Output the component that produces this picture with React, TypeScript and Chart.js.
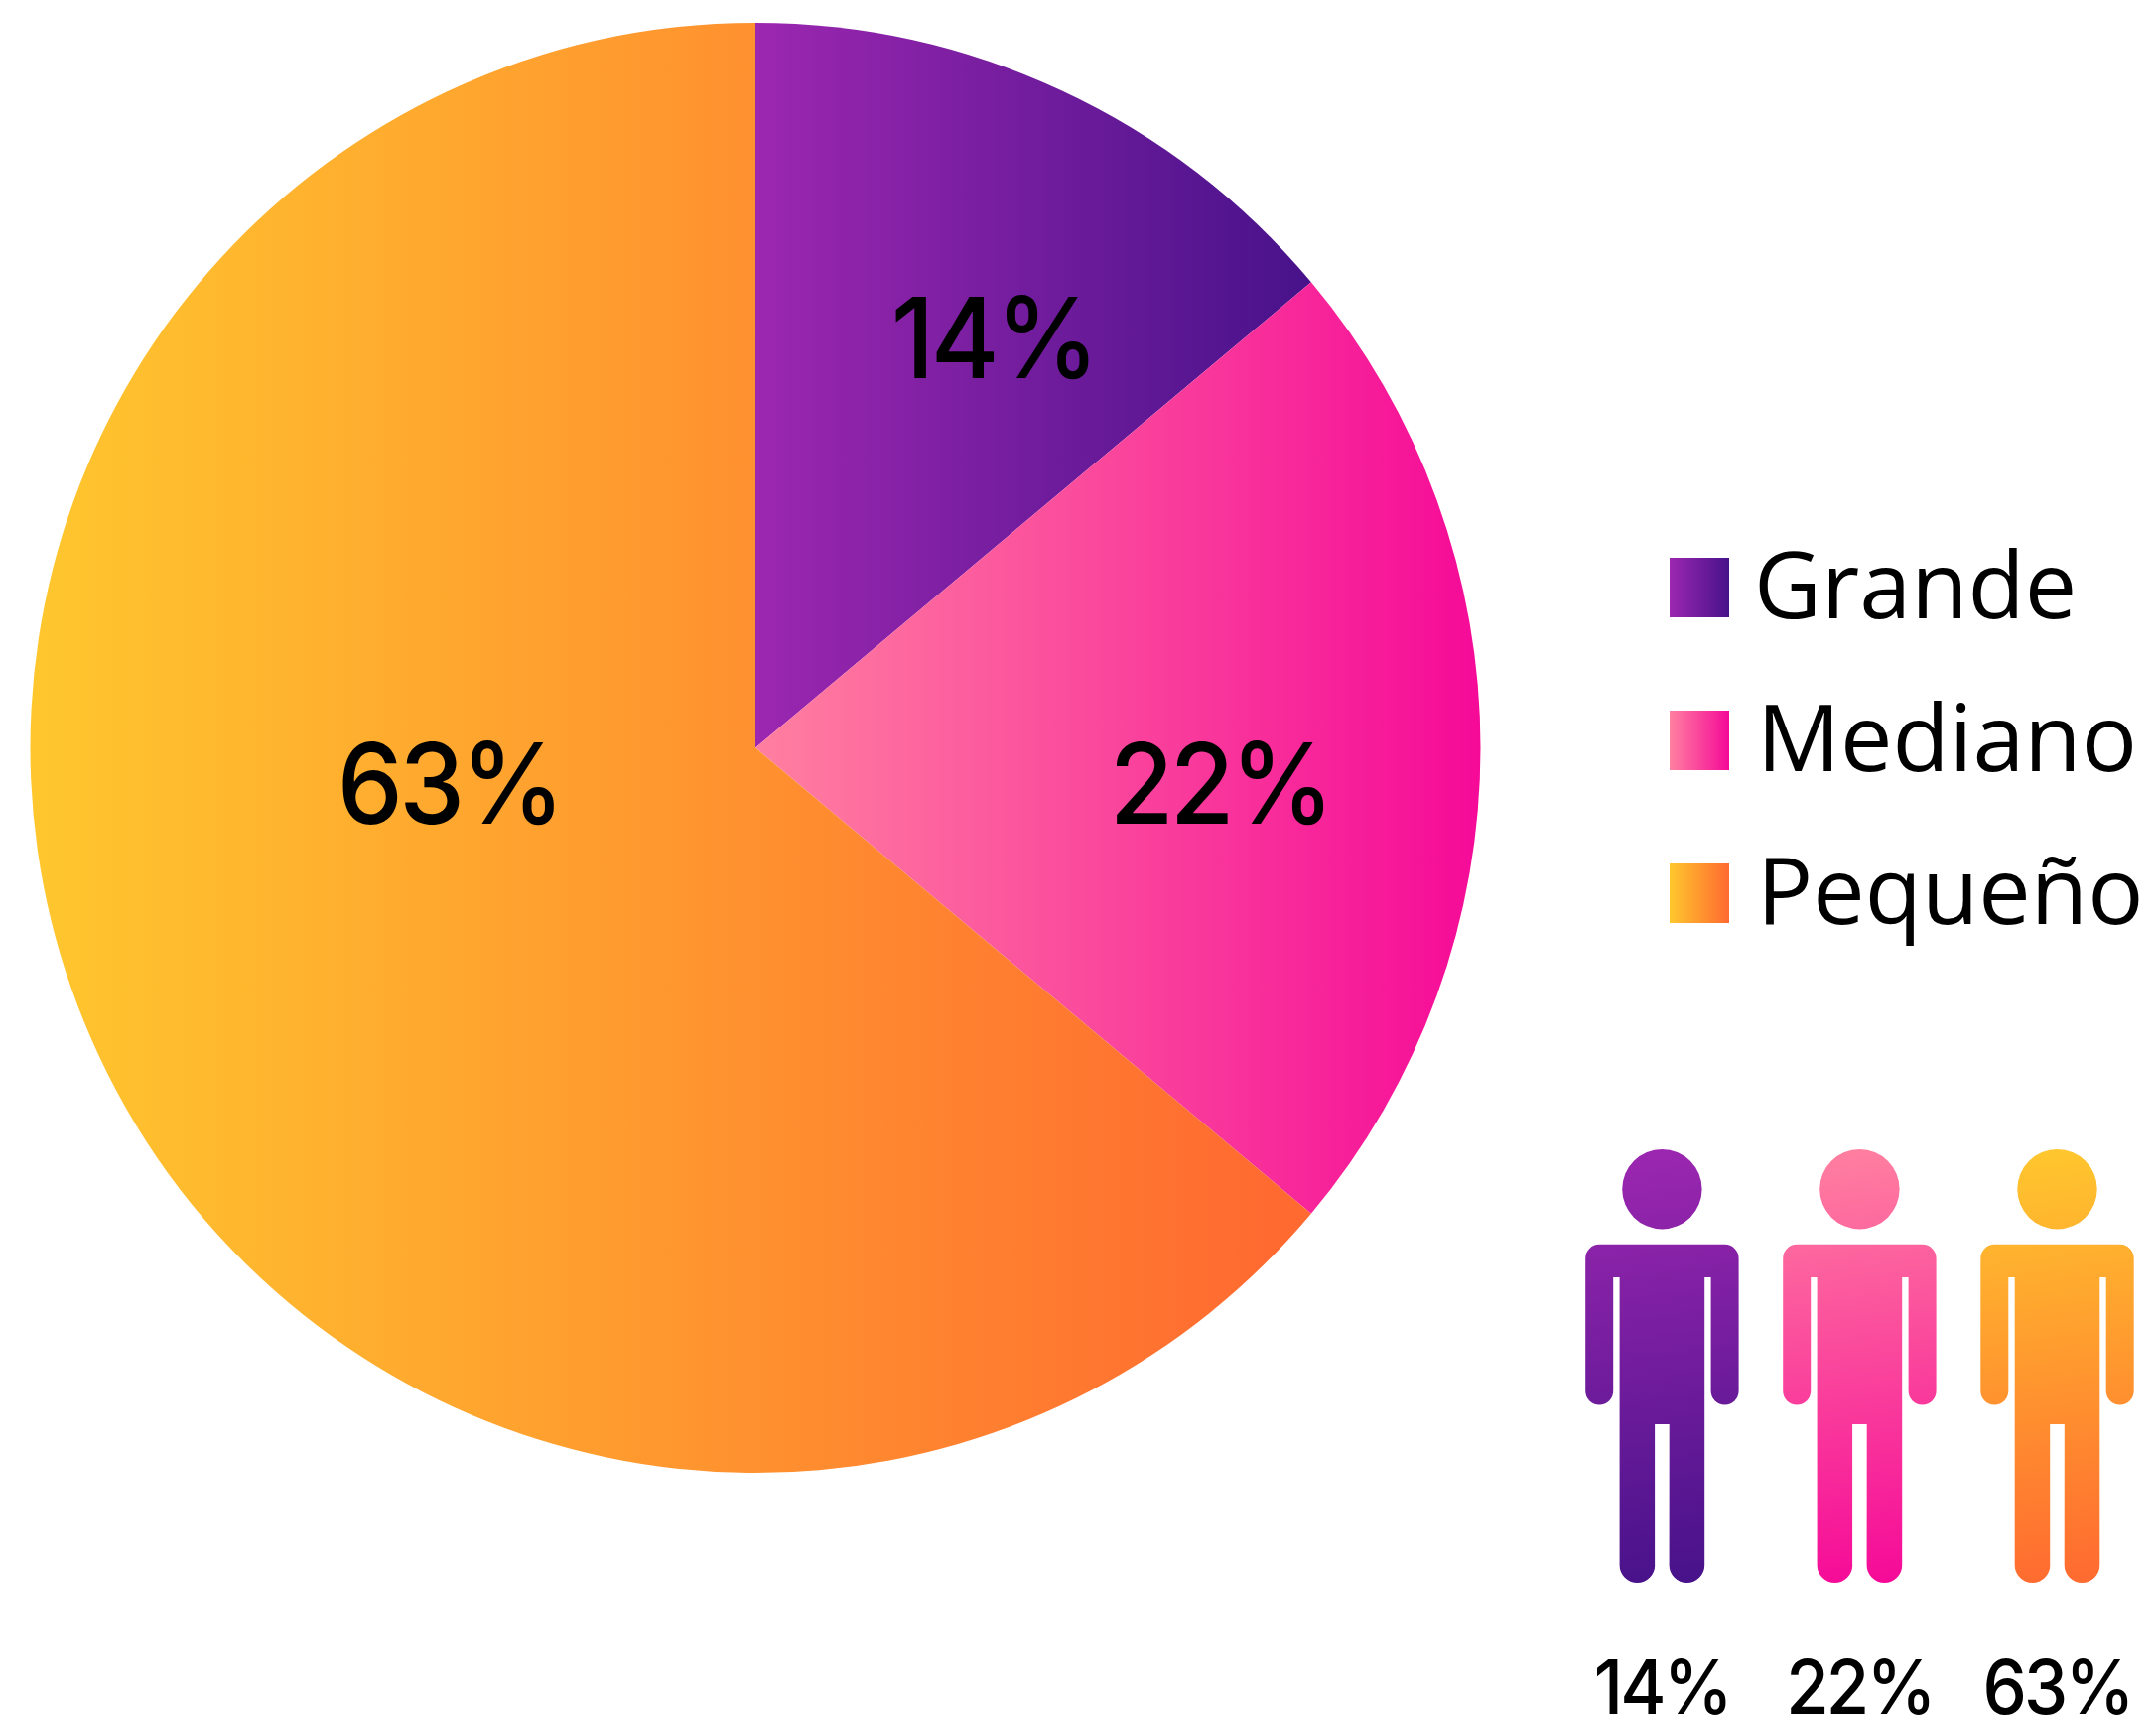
import React, { useEffect, useRef } from "react";
import { Chart, registerables } from "chart.js";

Chart.register(...registerables);

const categories = ["Grande", "Mediano", "Pequeño"];
const sliceValues = [13.9, 22.2, 63.9];
const percentLabels = ["14%", "22%", "63%"];
const startColors = ["#9c27b0", "#ff80a0", "#ffc72e"];
const endColors = ["#47128a", "#f50a98", "#ff6a30"];

const W = 2172;
const H = 1731;
const sliceGradientX: [number, number][] = [[761, 1320], [761, 1492], [30, 1280]];
const pieLabelPos: [number, number][] = [[1000.7, 381], [1229, 830], [452.5, 830]];
const PIE_FONT = "500 113px Inter";
const PIE_SPACING = "-4px";
const PIE_CONDENSE = 0.93;
const LEGEND_FONT = "500 93.5px 'Open Sans'";
const legendBoxX = 1682;
const legendBoxSize = 60;
const legendBoxY = [562, 716, 870];
const legendTextX = [1767, 1770, 1770];
const legendBaseline = [623, 777, 931];
const personX = [1674.4, 1873.4, 2072.5];
const PERSON_FONT = "500 75px Inter";
const PERSON_SPACING = "-3px";
const PERSON_CONDENSE = 0.94;
const PERSON_BASELINE = 1726.5;

function hGrad(ctx: CanvasRenderingContext2D, x0: number, x1: number, a: string, b: string) {
  const g = ctx.createLinearGradient(x0, 0, x1, 0);
  g.addColorStop(0, a);
  g.addColorStop(1, b);
  return g;
}

function condensedText(ctx: any, text: string, x: number, y: number, font: string, spacing: string, sx: number) {
  ctx.save();
  ctx.translate(x, y);
  ctx.scale(sx, 1);
  ctx.fillStyle = "#000";
  ctx.textAlign = "center";
  ctx.textBaseline = "alphabetic";
  ctx.font = font;
  ctx.letterSpacing = spacing;
  ctx.fillText(text, 0, 0);
  ctx.restore();
}

function drawPerson(ctx: CanvasRenderingContext2D, cx: number, a: string, b: string) {
  const g = ctx.createLinearGradient(cx - 30, 1158, cx + 30, 1595);
  g.addColorStop(0, a);
  g.addColorStop(1, b);
  ctx.fillStyle = g;
  ctx.beginPath();
  ctx.arc(cx, 1198.2, 40.2, 0, Math.PI * 2);
  ctx.fill();
  // body: shoulders + arms + torso + legs, all relative to the figure's centre
  const L = cx - 77.2, R = cx + 77.2;
  const top = 1253.8, cr = 14;
  const torso = 42.8, gap = 7.3;
  const armTop = 1287, armBot = 1415.5 - 14;
  const crotch = 1435, legR = 17.8, legBot = 1595 - legR;
  ctx.beginPath();
  ctx.moveTo(L + cr, top);
  ctx.lineTo(R - cr, top);
  ctx.arcTo(R, top, R, top + cr, cr);
  ctx.lineTo(R, armBot);
  ctx.arc(R - 14, armBot, 14, 0, Math.PI);
  ctx.lineTo(cx + 49.2, armTop);
  ctx.lineTo(cx + torso, armTop);
  ctx.lineTo(cx + torso, legBot);
  ctx.arc(cx + torso - legR, legBot, legR, 0, Math.PI);
  ctx.lineTo(cx + gap, crotch);
  ctx.lineTo(cx - gap, crotch);
  ctx.lineTo(cx - gap, legBot);
  ctx.arc(cx - torso + legR, legBot, legR, 0, Math.PI);
  ctx.lineTo(cx - torso, armTop);
  ctx.lineTo(cx - 49.2, armTop);
  ctx.lineTo(cx - 49.2, armBot);
  ctx.arc(L + 14, armBot, 14, 0, Math.PI);
  ctx.lineTo(L, top + cr);
  ctx.arcTo(L, top, L + cr, top, cr);
  ctx.closePath();
  ctx.fill();
}

const decorations = {
  id: "decorations",
  afterDraw(chart: any) {
    const ctx: any = chart.ctx;
    ctx.save();
    percentLabels.forEach((t, i) =>
      condensedText(ctx, t, pieLabelPos[i][0], pieLabelPos[i][1], PIE_FONT, PIE_SPACING, PIE_CONDENSE)
    );

    ctx.textBaseline = "alphabetic";
    categories.forEach((c, i) => {
      ctx.fillStyle = hGrad(ctx, legendBoxX, legendBoxX + legendBoxSize, startColors[i], endColors[i]);
      ctx.fillRect(legendBoxX, legendBoxY[i], legendBoxSize, legendBoxSize);
      ctx.fillStyle = "#000";
      ctx.textAlign = "left";
      ctx.font = LEGEND_FONT;
      ctx.fillText(c, legendTextX[i], legendBaseline[i]);
    });

    personX.forEach((x, i) => {
      drawPerson(ctx, x, startColors[i], endColors[i]);
      condensedText(ctx, percentLabels[i], x, PERSON_BASELINE, PERSON_FONT, PERSON_SPACING, PERSON_CONDENSE);
    });
    ctx.restore();
  },
};

export default function App() {
  const ref = useRef<HTMLCanvasElement>(null);
  useEffect(() => {
    const canvas = ref.current!;
    const ctx = canvas.getContext("2d")!;
    const chart = new Chart(ctx, {
      type: "pie",
      data: {
        labels: categories,
        datasets: [
          {
            data: sliceValues,
            borderWidth: 0,
            backgroundColor: sliceValues.map((_, i) =>
              hGrad(ctx, sliceGradientX[i][0], sliceGradientX[i][1], startColors[i], endColors[i])
            ),
          },
        ],
      },
      options: {
        responsive: false,
        animation: false,
        layout: { padding: { left: 30.5, top: 23, right: 680.5, bottom: 247 } },
        plugins: { legend: { display: false }, tooltip: { enabled: false } },
      },
      plugins: [decorations],
    });
    return () => chart.destroy();
  }, []);
  return (
    <canvas
      ref={ref}
      width={W}
      height={H}
      style={{ position: "absolute", left: 0, top: 0, display: "block" }}
    />
  );
}
